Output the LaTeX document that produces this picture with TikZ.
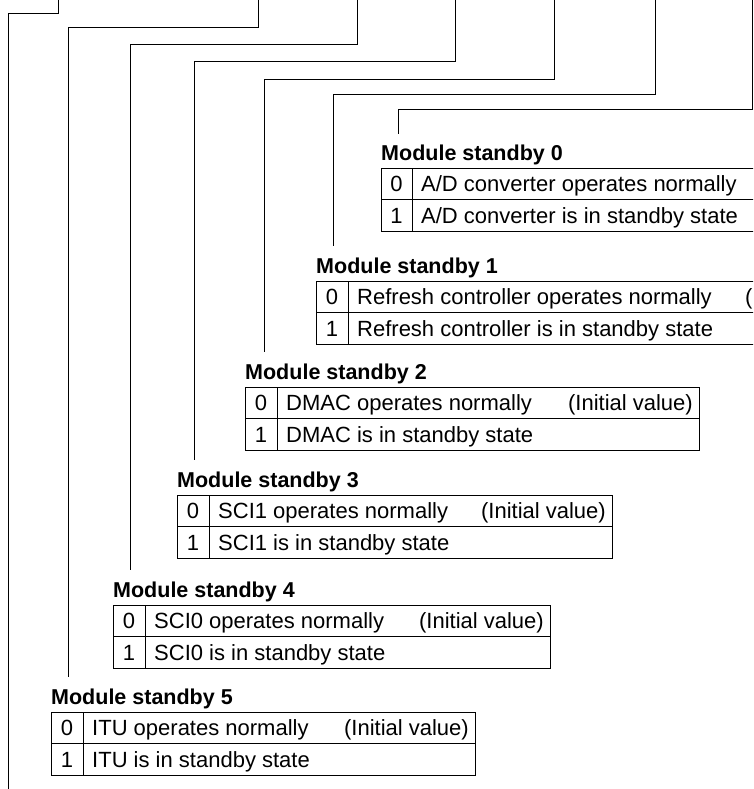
\documentclass[tikz,border=0pt]{standalone}
\usepackage{fontspec}
\setmainfont{Liberation Sans}
\begin{document}
\begin{tikzpicture}[x=1pt,y=-1pt,
  lead/.style={line width=0.9pt},
  tbl/.style={line width=0.9pt},
  ttl/.style={font=\fontsize{21.5}{24}\selectfont\bfseries, anchor=base west, inner sep=0pt},
  cell/.style={font=\fontsize{22}{24}\selectfont, anchor=base west, inner sep=0pt},
  bit/.style={font=\fontsize{22}{24}\selectfont, anchor=base, inner sep=0pt},
  init/.style={font=\fontsize{22}{24}\selectfont, anchor=base east, inner sep=0pt}]
\useasboundingbox (0,0) rectangle (753,789);
\clip (0,0) rectangle (753,789);
% #1 id, #2 left, #3 col, #4 right, #5 top, #6 row0, #7 row1
\newcommand\mstable[7]{%
  \draw[tbl] (#2,#5) rectangle (#4,#5+63);
  \draw[tbl] (#2,#5+31.5) -- (#4,#5+31.5);
  \draw[tbl] (#3,#5) -- (#3,#5+63);
  \node[ttl] (title#1) at (#2,#5-8) {Module standby #1};
  \node[bit] (ba#1) at ({(#2+#3)/2},#5+23.5) {0};
  \node[bit] (bb#1) at ({(#2+#3)/2},#5+55) {1};
  \node[cell] (ra#1) at (#3+9,#5+23.5) {#6};
  \node[cell] (rb#1) at (#3+9,#5+55) {#7};
}
\mstable{0}{381}{412}{800}{168}{A/D converter operates normally}{A/D converter is in standby state}
\mstable{1}{316}{348}{800}{281}{Refresh controller operates normally}{Refresh controller is in standby state}
\mstable{2}{245}{277}{699}{387}{DMAC operates normally}{DMAC is in standby state}
\mstable{3}{177}{209}{612}{495}{SCI1 operates normally}{SCI1 is in standby state}
\mstable{4}{113}{145}{550}{605}{SCI0 operates normally}{SCI0 is in standby state}
\mstable{5}{51}{83}{475}{712}{ITU operates normally}{ITU is in standby state}
\node[cell] (ia1) at (745,304.5) {(};
\node[init] (ia2) at (693,410.5) {(Initial value)};
\node[init] (ia3) at (606,518.5) {(Initial value)};
\node[init] (ia4) at (544,628.5) {(Initial value)};
\node[init] (ia5) at (469,735.5) {(Initial value)};
% leader lines
\coordinate (t0) at (58,0);  \coordinate (e0) at (8,789);
\coordinate (t1) at (258,0); \coordinate (e1) at (68,677);
\coordinate (t2) at (357,0); \coordinate (e2) at (130,570);
\coordinate (t3) at (455,0); \coordinate (e3) at (194,460);
\coordinate (t4) at (554,0); \coordinate (e4) at (264,352);
\coordinate (t5) at (655,0); \coordinate (e5) at (333,246);
\coordinate (t6) at (752,0); \coordinate (e6) at (398,134);
\draw[lead] (t0) -- (58,13) -| (e0);
\draw[lead] (t1) -- (258,27) -| (e1);
\draw[lead] (t2) -- (357,44) -| (e2);
\draw[lead] (t3) -- (455,61) -| (e3);
\draw[lead] (t4) -- (554,79) -| (e4);
\draw[lead] (t5) -- (655,94) -| (e5);
\draw[lead] (t6) -- (752,109) -| (e6);
\end{tikzpicture}
\end{document}
